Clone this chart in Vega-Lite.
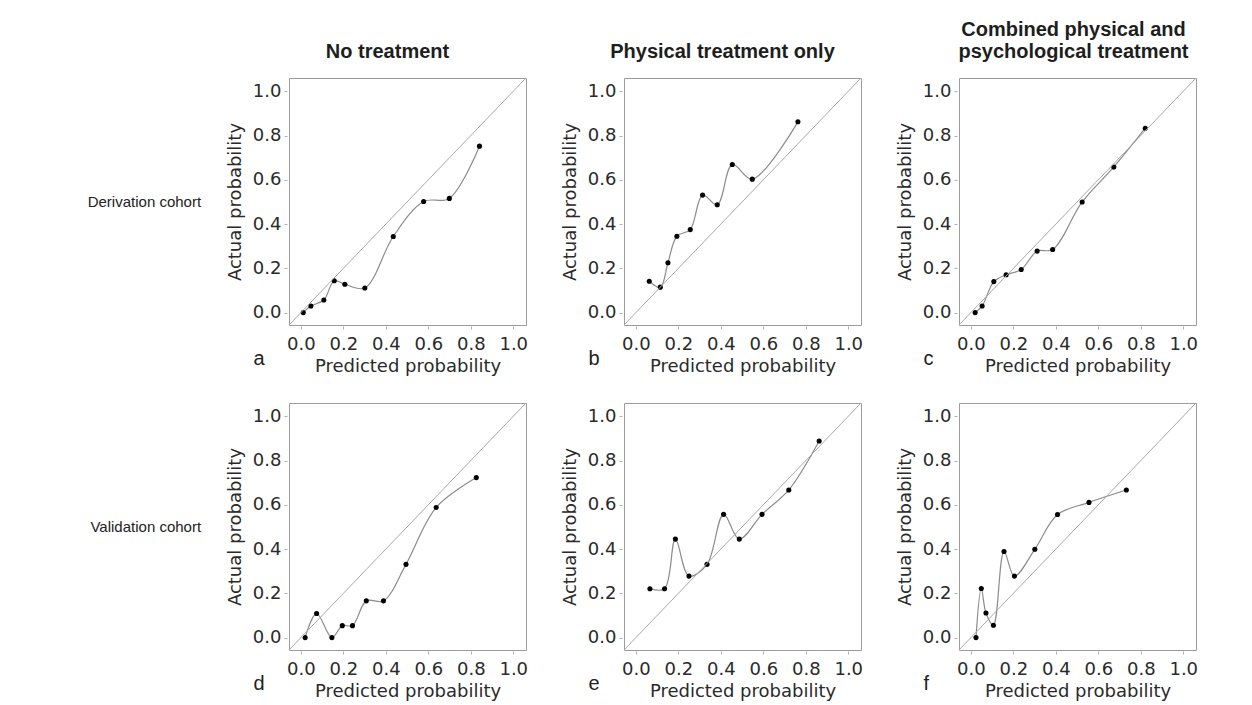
{
  "$schema": "https://vega.github.io/schema/vega-lite/v6.json",
  "padding": {"left": 87, "top": 19, "right": 5, "bottom": 5},
  "background": "white",
  "columns": 3,
  "spacing": {"row": 78, "column": 98},
  "bounds": "flush",
  "datasets": {
    "pts": [
      {"p": "a", "x": 0.011, "y": 0.000}, {"p": "a", "x": 0.047, "y": 0.030}, {"p": "a", "x": 0.108, "y": 0.057}, {"p": "a", "x": 0.157, "y": 0.144}, {"p": "a", "x": 0.207, "y": 0.128},
      {"p": "a", "x": 0.301, "y": 0.111}, {"p": "a", "x": 0.435, "y": 0.344}, {"p": "a", "x": 0.578, "y": 0.502}, {"p": "a", "x": 0.699, "y": 0.516}, {"p": "a", "x": 0.841, "y": 0.752},
      {"p": "b", "x": 0.063, "y": 0.142}, {"p": "b", "x": 0.115, "y": 0.115}, {"p": "b", "x": 0.151, "y": 0.225}, {"p": "b", "x": 0.193, "y": 0.345}, {"p": "b", "x": 0.256, "y": 0.375},
      {"p": "b", "x": 0.314, "y": 0.531}, {"p": "b", "x": 0.383, "y": 0.487}, {"p": "b", "x": 0.454, "y": 0.669}, {"p": "b", "x": 0.548, "y": 0.603}, {"p": "b", "x": 0.763, "y": 0.862},
      {"p": "c", "x": 0.020, "y": 0.000}, {"p": "c", "x": 0.053, "y": 0.030}, {"p": "c", "x": 0.108, "y": 0.140}, {"p": "c", "x": 0.166, "y": 0.171}, {"p": "c", "x": 0.237, "y": 0.195},
      {"p": "c", "x": 0.312, "y": 0.278}, {"p": "c", "x": 0.385, "y": 0.285}, {"p": "c", "x": 0.524, "y": 0.500}, {"p": "c", "x": 0.673, "y": 0.658}, {"p": "c", "x": 0.821, "y": 0.833},
      {"p": "d", "x": 0.020, "y": 0.000}, {"p": "d", "x": 0.074, "y": 0.109}, {"p": "d", "x": 0.146, "y": 0.000}, {"p": "d", "x": 0.195, "y": 0.054}, {"p": "d", "x": 0.243, "y": 0.054},
      {"p": "d", "x": 0.308, "y": 0.166}, {"p": "d", "x": 0.389, "y": 0.166}, {"p": "d", "x": 0.495, "y": 0.331}, {"p": "d", "x": 0.637, "y": 0.588}, {"p": "d", "x": 0.826, "y": 0.723},
      {"p": "e", "x": 0.066, "y": 0.221}, {"p": "e", "x": 0.135, "y": 0.221}, {"p": "e", "x": 0.186, "y": 0.445}, {"p": "e", "x": 0.250, "y": 0.278}, {"p": "e", "x": 0.335, "y": 0.331},
      {"p": "e", "x": 0.413, "y": 0.557}, {"p": "e", "x": 0.487, "y": 0.445}, {"p": "e", "x": 0.594, "y": 0.557}, {"p": "e", "x": 0.720, "y": 0.667}, {"p": "e", "x": 0.863, "y": 0.888},
      {"p": "f", "x": 0.024, "y": 0.000}, {"p": "f", "x": 0.049, "y": 0.222}, {"p": "f", "x": 0.071, "y": 0.111}, {"p": "f", "x": 0.106, "y": 0.056}, {"p": "f", "x": 0.156, "y": 0.389},
      {"p": "f", "x": 0.205, "y": 0.278}, {"p": "f", "x": 0.301, "y": 0.399}, {"p": "f", "x": 0.408, "y": 0.556}, {"p": "f", "x": 0.556, "y": 0.611}, {"p": "f", "x": 0.732, "y": 0.667}
    ]
  },
  "config": {
    "view": {"stroke": "#9c9c9c", "strokeWidth": 1},
    "axis": {
      "grid": false, "domain": false, "ticks": true, "tickSize": 3, "tickColor": "#b0b0b0", "tickWidth": 1,
      "labelFont": "DejaVu Sans", "labelFontSize": 18, "labelColor": "#2a2a2a", "labelFlush": false, "labelOverlap": false,
      "titleFont": "DejaVu Sans", "titleFontSize": 18, "titleFontWeight": "normal", "titleColor": "#2a2a2a"
    },
    "axisX": {"offset": 1, "labelPadding": 6, "titlePadding": 4},
    "axisY": {"offset": 2, "labelPadding": 3, "titlePadding": 8},
    "title": {"font": "Liberation Sans", "fontSize": 20, "fontWeight": "bold", "color": "#1e1e1e", "anchor": "middle", "frame": "group", "baseline": "bottom", "lineHeight": 22, "offset": 16}
  },
  "concat": [
    {
      "width": 237, "height": 247,
      "title": {"text": "No treatment", "dx": -20},
      "data": {"name": "pts"},
      "layer": [
        {"transform": [{"filter": "datum.p === 'a'"}], "mark": {"type": "line", "interpolate": "catmull-rom", "color": "#8c8c8c", "strokeWidth": 1.2},
         "encoding": {"x": {"field": "x", "type": "quantitative", "scale": {"domain": [-0.056, 1.06], "nice": false, "zero": false}, "axis": {"values": [0, 0.2, 0.4, 0.6, 0.8, 1], "format": ".1f", "title": "Predicted probability"}},
                      "y": {"field": "y", "type": "quantitative", "scale": {"domain": [-0.056, 1.06], "nice": false, "zero": false}, "axis": {"values": [0, 0.2, 0.4, 0.6, 0.8, 1], "format": ".1f", "title": "Actual probability"}}}},
        {"transform": [{"filter": "datum.p === 'a'"}], "mark": {"type": "circle", "color": "#000000", "size": 26, "opacity": 1},
         "encoding": {"x": {"field": "x", "type": "quantitative"}, "y": {"field": "y", "type": "quantitative"}}},
        {"data": {"values": [{"t": "diag"}]}, "mark": {"type": "rule", "color": "#a8a8a8", "strokeWidth": 1},
         "encoding": {"x": {"datum": -0.056}, "y": {"datum": -0.056}, "x2": {"datum": 1.06}, "y2": {"datum": 1.06}}},
        {"data": {"values": [{"t": "a"}]}, "mark": {"type": "text", "font": "Liberation Sans", "fontSize": 20, "align": "left", "baseline": "alphabetic", "color": "#222222"},
         "encoding": {"x": {"datum": -0.223}, "y": {"datum": -0.235}, "text": {"field": "t"}}},
        {"data": {"values": [{"t": "Derivation cohort"}]}, "mark": {"type": "text", "font": "Liberation Sans", "fontSize": 15, "align": "right", "baseline": "middle", "color": "#222222"},
         "encoding": {"x": {"datum": -0.47}, "y": {"datum": 0.5}, "text": {"field": "t"}}}
      ]
    },
    {
      "width": 237, "height": 247,
      "title": {"text": "Physical treatment only", "dx": -20},
      "data": {"name": "pts"},
      "layer": [
        {"transform": [{"filter": "datum.p === 'b'"}], "mark": {"type": "line", "interpolate": "catmull-rom", "color": "#8c8c8c", "strokeWidth": 1.2},
         "encoding": {"x": {"field": "x", "type": "quantitative", "scale": {"domain": [-0.056, 1.06], "nice": false, "zero": false}, "axis": {"values": [0, 0.2, 0.4, 0.6, 0.8, 1], "format": ".1f", "title": "Predicted probability"}},
                      "y": {"field": "y", "type": "quantitative", "scale": {"domain": [-0.056, 1.06], "nice": false, "zero": false}, "axis": {"values": [0, 0.2, 0.4, 0.6, 0.8, 1], "format": ".1f", "title": "Actual probability"}}}},
        {"transform": [{"filter": "datum.p === 'b'"}], "mark": {"type": "circle", "color": "#000000", "size": 26, "opacity": 1},
         "encoding": {"x": {"field": "x", "type": "quantitative"}, "y": {"field": "y", "type": "quantitative"}}},
        {"data": {"values": [{"t": "diag"}]}, "mark": {"type": "rule", "color": "#a8a8a8", "strokeWidth": 1},
         "encoding": {"x": {"datum": -0.056}, "y": {"datum": -0.056}, "x2": {"datum": 1.06}, "y2": {"datum": 1.06}}},
        {"data": {"values": [{"t": "b"}]}, "mark": {"type": "text", "font": "Liberation Sans", "fontSize": 20, "align": "left", "baseline": "alphabetic", "color": "#222222"},
         "encoding": {"x": {"datum": -0.223}, "y": {"datum": -0.235}, "text": {"field": "t"}}}
      ]
    },
    {
      "width": 237, "height": 247,
      "title": {"text": ["Combined physical and", "psychological treatment"], "dx": -4},
      "data": {"name": "pts"},
      "layer": [
        {"transform": [{"filter": "datum.p === 'c'"}], "mark": {"type": "line", "interpolate": "catmull-rom", "color": "#8c8c8c", "strokeWidth": 1.2},
         "encoding": {"x": {"field": "x", "type": "quantitative", "scale": {"domain": [-0.056, 1.06], "nice": false, "zero": false}, "axis": {"values": [0, 0.2, 0.4, 0.6, 0.8, 1], "format": ".1f", "title": "Predicted probability"}},
                      "y": {"field": "y", "type": "quantitative", "scale": {"domain": [-0.056, 1.06], "nice": false, "zero": false}, "axis": {"values": [0, 0.2, 0.4, 0.6, 0.8, 1], "format": ".1f", "title": "Actual probability"}}}},
        {"transform": [{"filter": "datum.p === 'c'"}], "mark": {"type": "circle", "color": "#000000", "size": 26, "opacity": 1},
         "encoding": {"x": {"field": "x", "type": "quantitative"}, "y": {"field": "y", "type": "quantitative"}}},
        {"data": {"values": [{"t": "diag"}]}, "mark": {"type": "rule", "color": "#a8a8a8", "strokeWidth": 1},
         "encoding": {"x": {"datum": -0.056}, "y": {"datum": -0.056}, "x2": {"datum": 1.06}, "y2": {"datum": 1.06}}},
        {"data": {"values": [{"t": "c"}]}, "mark": {"type": "text", "font": "Liberation Sans", "fontSize": 20, "align": "left", "baseline": "alphabetic", "color": "#222222"},
         "encoding": {"x": {"datum": -0.223}, "y": {"datum": -0.235}, "text": {"field": "t"}}}
      ]
    },
    {
      "width": 237, "height": 247,
      "data": {"name": "pts"},
      "layer": [
        {"transform": [{"filter": "datum.p === 'd'"}], "mark": {"type": "line", "interpolate": "catmull-rom", "color": "#8c8c8c", "strokeWidth": 1.2},
         "encoding": {"x": {"field": "x", "type": "quantitative", "scale": {"domain": [-0.056, 1.06], "nice": false, "zero": false}, "axis": {"values": [0, 0.2, 0.4, 0.6, 0.8, 1], "format": ".1f", "title": "Predicted probability"}},
                      "y": {"field": "y", "type": "quantitative", "scale": {"domain": [-0.056, 1.06], "nice": false, "zero": false}, "axis": {"values": [0, 0.2, 0.4, 0.6, 0.8, 1], "format": ".1f", "title": "Actual probability"}}}},
        {"transform": [{"filter": "datum.p === 'd'"}], "mark": {"type": "circle", "color": "#000000", "size": 26, "opacity": 1},
         "encoding": {"x": {"field": "x", "type": "quantitative"}, "y": {"field": "y", "type": "quantitative"}}},
        {"data": {"values": [{"t": "diag"}]}, "mark": {"type": "rule", "color": "#a8a8a8", "strokeWidth": 1},
         "encoding": {"x": {"datum": -0.056}, "y": {"datum": -0.056}, "x2": {"datum": 1.06}, "y2": {"datum": 1.06}}},
        {"data": {"values": [{"t": "d"}]}, "mark": {"type": "text", "font": "Liberation Sans", "fontSize": 20, "align": "left", "baseline": "alphabetic", "color": "#222222"},
         "encoding": {"x": {"datum": -0.223}, "y": {"datum": -0.235}, "text": {"field": "t"}}},
        {"data": {"values": [{"t": "Validation cohort"}]}, "mark": {"type": "text", "font": "Liberation Sans", "fontSize": 15, "align": "right", "baseline": "middle", "color": "#222222"},
         "encoding": {"x": {"datum": -0.47}, "y": {"datum": 0.5}, "text": {"field": "t"}}}
      ]
    },
    {
      "width": 237, "height": 247,
      "data": {"name": "pts"},
      "layer": [
        {"transform": [{"filter": "datum.p === 'e'"}], "mark": {"type": "line", "interpolate": "catmull-rom", "color": "#8c8c8c", "strokeWidth": 1.2},
         "encoding": {"x": {"field": "x", "type": "quantitative", "scale": {"domain": [-0.056, 1.06], "nice": false, "zero": false}, "axis": {"values": [0, 0.2, 0.4, 0.6, 0.8, 1], "format": ".1f", "title": "Predicted probability"}},
                      "y": {"field": "y", "type": "quantitative", "scale": {"domain": [-0.056, 1.06], "nice": false, "zero": false}, "axis": {"values": [0, 0.2, 0.4, 0.6, 0.8, 1], "format": ".1f", "title": "Actual probability"}}}},
        {"transform": [{"filter": "datum.p === 'e'"}], "mark": {"type": "circle", "color": "#000000", "size": 26, "opacity": 1},
         "encoding": {"x": {"field": "x", "type": "quantitative"}, "y": {"field": "y", "type": "quantitative"}}},
        {"data": {"values": [{"t": "diag"}]}, "mark": {"type": "rule", "color": "#a8a8a8", "strokeWidth": 1},
         "encoding": {"x": {"datum": -0.056}, "y": {"datum": -0.056}, "x2": {"datum": 1.06}, "y2": {"datum": 1.06}}},
        {"data": {"values": [{"t": "e"}]}, "mark": {"type": "text", "font": "Liberation Sans", "fontSize": 20, "align": "left", "baseline": "alphabetic", "color": "#222222"},
         "encoding": {"x": {"datum": -0.223}, "y": {"datum": -0.235}, "text": {"field": "t"}}}
      ]
    },
    {
      "width": 237, "height": 247,
      "data": {"name": "pts"},
      "layer": [
        {"transform": [{"filter": "datum.p === 'f'"}], "mark": {"type": "line", "interpolate": "catmull-rom", "color": "#8c8c8c", "strokeWidth": 1.2},
         "encoding": {"x": {"field": "x", "type": "quantitative", "scale": {"domain": [-0.056, 1.06], "nice": false, "zero": false}, "axis": {"values": [0, 0.2, 0.4, 0.6, 0.8, 1], "format": ".1f", "title": "Predicted probability"}},
                      "y": {"field": "y", "type": "quantitative", "scale": {"domain": [-0.056, 1.06], "nice": false, "zero": false}, "axis": {"values": [0, 0.2, 0.4, 0.6, 0.8, 1], "format": ".1f", "title": "Actual probability"}}}},
        {"transform": [{"filter": "datum.p === 'f'"}], "mark": {"type": "circle", "color": "#000000", "size": 26, "opacity": 1},
         "encoding": {"x": {"field": "x", "type": "quantitative"}, "y": {"field": "y", "type": "quantitative"}}},
        {"data": {"values": [{"t": "diag"}]}, "mark": {"type": "rule", "color": "#a8a8a8", "strokeWidth": 1},
         "encoding": {"x": {"datum": -0.056}, "y": {"datum": -0.056}, "x2": {"datum": 1.06}, "y2": {"datum": 1.06}}},
        {"data": {"values": [{"t": "f"}]}, "mark": {"type": "text", "font": "Liberation Sans", "fontSize": 20, "align": "left", "baseline": "alphabetic", "color": "#222222"},
         "encoding": {"x": {"datum": -0.223}, "y": {"datum": -0.235}, "text": {"field": "t"}}}
      ]
    }
  ]
}
